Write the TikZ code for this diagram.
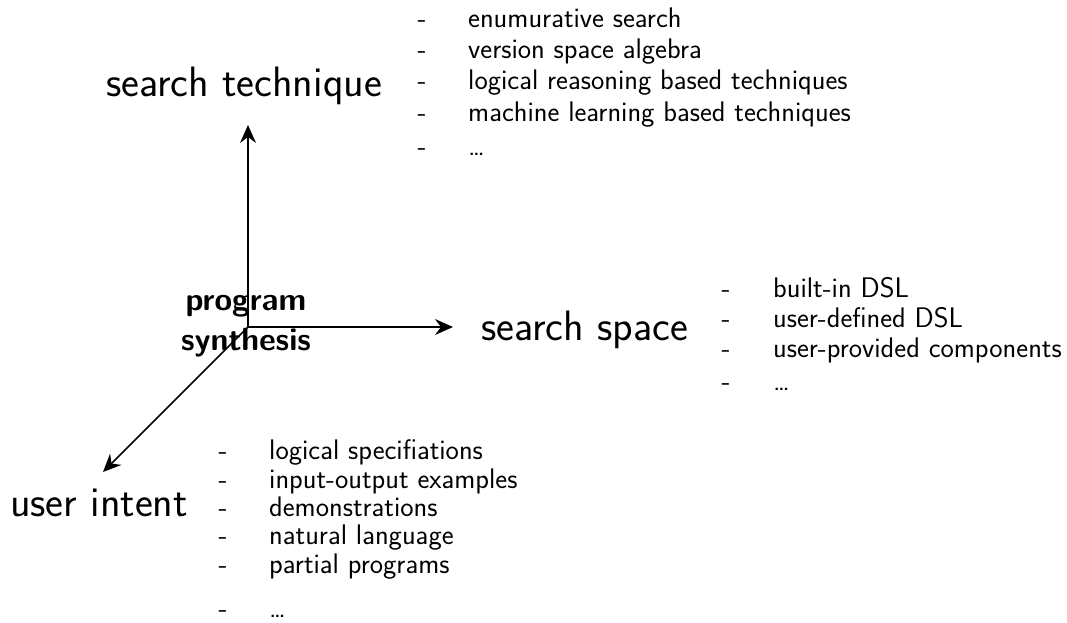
\documentclass[tikz,border=0pt]{standalone}
\usetikzlibrary{arrows.meta}
\begin{document}
\begin{tikzpicture}[x=1pt, y=-1pt,
axis/.style ={-{Stealth[length=18pt,width=16pt,inset=6pt]}, line width=1.6pt},
axisname/.style ={anchor=base, inner sep=0pt, font=\sffamily\fontsize{42.5}{46}\selectfont},
core/.style ={align=center, inner sep=0pt, font=\sffamily\bfseries\fontsize{32}{40}\selectfont},
entry/.style ={anchor=base west, inner sep=0pt, font=\sffamily\fontsize{28.3}{30}\selectfont},
hyph/.style ={anchor=base, inner sep=0pt, font=\sffamily\fontsize{28.3}{30}\selectfont}]
\useasboundingbox (0,0) rectangle (1067,622);
\coordinate (O) at (248,327);
\coordinate (techtip) at (248,125);
\coordinate (spacetip) at (453,327);
\coordinate (intenttip) at (103,472);
\node[axisname] (tech) at (244,96) {search technique};
\node[axisname, anchor=base west] (space) at (481,340) {search space};
\node[axisname] (intent) at (99,516) {user intent};
\node[core] (ps) at (246,326) {program\\synthesis};
\draw[axis] (O) -- (techtip);
\draw[axis] (O) -- (spacetip);
\draw[axis] (O) -- (intenttip);
\foreach \t/\y [count=\i] in {enumurative search/27, version space algebra/58,
  logical reasoning based techniques/89, machine learning based techniques/121, \dots/155}{
  \node[hyph] (th\i) at (422,\y) {-};
  \node[entry] (te\i) at (468,\y) {\t};
}
\foreach \t/\y [count=\i] in {built-in DSL/297, user-defined DSL/327,
  user-provided components/357, \dots/390}{
  \node[hyph] (sh\i) at (726,\y) {-};
  \node[entry] (se\i) at (773,\y) {\t};
}
\foreach \t/\y [count=\i] in {logical specifiations/459, input-output examples/488,
  demonstrations/516, natural language/544, partial programs/573, \dots/617}{
  \node[hyph] (ih\i) at (223,\y) {-};
  \node[entry] (ie\i) at (269,\y) {\t};
}
\end{tikzpicture}
\end{document}
